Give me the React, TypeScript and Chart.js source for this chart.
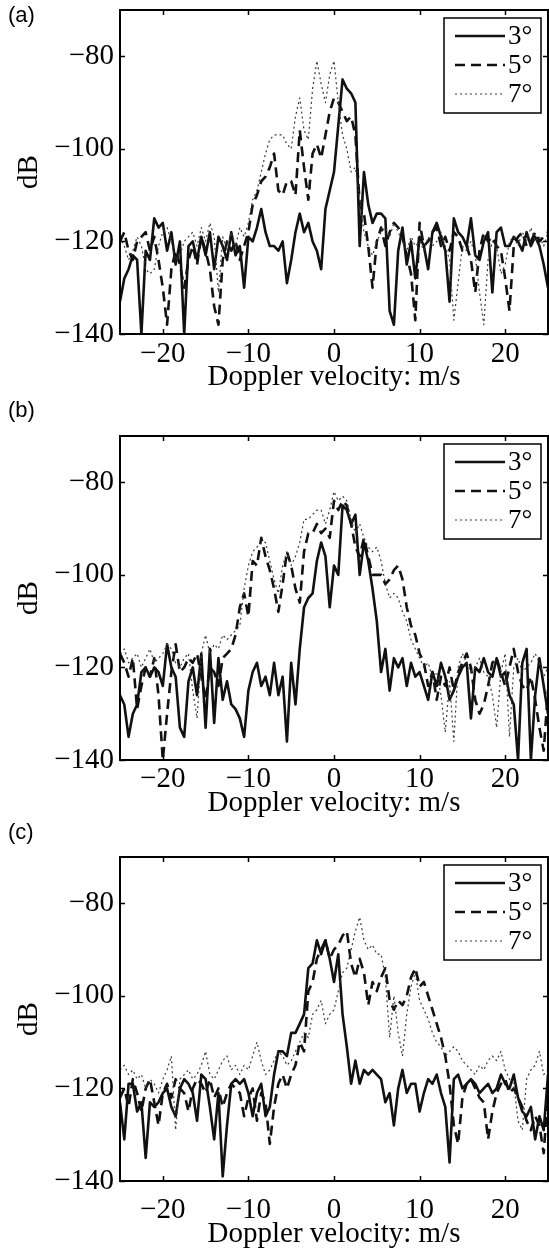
import React, { useEffect, useRef } from "react";
import { Chart, registerables } from "chart.js";

Chart.register(...registerables);

// ---------------- data ----------------
const velocity = [
  -25, -24.5, -24, -23.5, -23, -22.5, -22, -21.5, -21, -20.5,
  -20, -19.5, -19, -18.5, -18, -17.5, -17, -16.5, -16, -15.5,
  -15, -14.5, -14, -13.5, -13, -12.5, -12, -11.5, -11, -10.5,
  -10, -9.5, -9, -8.5, -8, -7.5, -7, -6.5, -6, -5.5,
  -5, -4.5, -4, -3.5, -3, -2.5, -2, -1.5, -1, -0.5,
  0, 0.5, 1, 1.5, 2, 2.5, 3, 3.5, 4, 4.5,
  5, 5.5, 6, 6.5, 7, 7.5, 8, 8.5, 9, 9.5,
  10, 10.5, 11, 11.5, 12, 12.5, 13, 13.5, 14, 14.5,
  15, 15.5, 16, 16.5, 17, 17.5, 18, 18.5, 19, 19.5,
  20, 20.5, 21, 21.5, 22, 22.5, 23, 23.5, 24, 24.5,
  25,
];

const xTicks = [-20, -10, 0, 10, 20];
const yTicks = [-140, -120, -100, -80];
const seriesLabels = ["3°", "5°", "7°"];
const panelLabels = ["(a)", "(b)", "(c)"];
const xTitle = "Doppler velocity: m/s";
const yTitle = "dB";

// panel (a)
const panelA3 = [
  -133, -128, -126, -123, -124, -140, -122, -124, -115, -117,
  -116, -122, -118, -125, -120, -140, -121, -120, -124, -119,
  -123, -118, -126, -119, -121, -124, -118, -123, -121, -130,
  -119, -120, -117, -113, -118, -121, -121, -122, -120, -129,
  -124, -118, -114, -118, -116, -120, -122, -126, -113, -109,
  -105, -95, -85, -87, -88, -90, -121, -105, -112, -116,
  -114, -114, -115, -135, -138, -122, -117, -125, -120, -128,
  -119, -121, -126, -118, -116, -119, -122, -133, -115, -118,
  -119, -121, -115, -123, -124, -120, -118, -131, -118, -117,
  -121, -121, -119, -120, -122, -118, -121, -119, -121, -125,
  -130,
];
const panelA5 = [
  -120, -118, -122, -124, -120, -119, -118, -122, -119, -124,
  -130, -138, -126, -122, -125, -130, -124, -121, -125, -119,
  -122, -126, -134, -138, -124, -120, -122, -120, -124, -121,
  -118, -112, -110, -107, -106, -104, -101, -109, -110, -107,
  -107, -110, -96, -104, -111, -101, -99, -102, -97, -92,
  -89, -90, -92, -94, -93, -97, -112, -114, -121, -130,
  -120, -117, -121, -118, -116, -117, -119, -123, -127, -137,
  -116, -121, -120, -118, -117, -121, -119, -122, -118, -119,
  -122, -121, -124, -131, -122, -118, -120, -119, -121, -122,
  -128, -135, -121, -119, -118, -121, -120, -118, -120, -119,
  -118,
];
const panelA7 = [
  -119, -121, -124, -122, -119, -121, -126, -127, -126, -121,
  -118, -117, -120, -124, -123, -120, -119, -118, -121, -117,
  -120, -116, -119, -131, -119, -122, -118, -121, -117, -119,
  -116, -111, -109, -105, -101, -98, -97, -97, -97, -99,
  -100, -93, -89, -96, -98, -87, -81, -86, -90, -84,
  -81, -90, -97, -100, -105, -104, -111, -118, -121, -123,
  -120, -118, -117, -119, -116, -118, -120, -122, -119, -121,
  -120, -122, -119, -121, -120, -118, -121, -124, -137, -129,
  -121, -122, -120, -123, -131, -138, -124, -120, -121, -127,
  -125, -120, -119, -121, -118, -120, -117, -120, -119, -121,
  -118,
];

// panel (b)
const panelB3 = [
  -126, -128, -135, -130, -128, -121, -120, -122, -120, -121,
  -124, -115, -120, -122, -133, -135, -123, -120, -126, -117,
  -133, -116, -132, -118, -127, -123, -128, -129, -131, -135,
  -125, -121, -119, -124, -122, -126, -119, -126, -122, -136,
  -119, -128, -116, -107, -105, -104, -97, -93, -96, -107,
  -98, -100, -85, -86, -89, -87, -100, -93, -97, -103,
  -110, -121, -116, -125, -118, -120, -118, -124, -119, -122,
  -121, -124, -127, -121, -124, -119, -122, -127, -125, -122,
  -120, -119, -131, -120, -121, -118, -121, -122, -118, -122,
  -121, -126, -128, -140, -119, -116, -140, -126, -118, -124,
  -130,
];
const panelB5 = [
  -117, -119, -122, -118, -129, -124, -120, -122, -118, -126,
  -140, -130, -121, -115, -121, -120, -118, -119, -117, -122,
  -127, -120, -121, -124, -118, -117, -116, -113, -107, -104,
  -109, -97, -98, -92, -96, -99, -103, -108, -102, -95,
  -98, -103, -106, -95, -91, -91, -89, -91, -90, -92,
  -84, -86, -84, -85, -89, -94, -96, -92, -96, -100,
  -100, -100, -102, -101, -99, -98, -101, -107, -111, -113,
  -117, -119, -124, -121, -127, -122, -124, -120, -125, -121,
  -119, -117, -120, -127, -130, -128, -124, -119, -118, -121,
  -124, -120, -116, -121, -124, -125, -122, -127, -133, -138,
  -125,
];
const panelB7 = [
  -117, -116, -119, -118, -117, -120, -118, -116, -119, -118,
  -117, -115, -116, -119, -120, -118, -117, -125, -131, -117,
  -113, -117, -115, -116, -113, -114, -113, -112, -111, -103,
  -98, -95, -94, -93, -93, -97, -101, -104, -98, -95,
  -98, -96, -93, -88, -88, -87, -86, -86, -89, -86,
  -82, -84, -83, -84, -88, -91, -89, -92, -94, -95,
  -94, -97, -102, -105, -104, -105, -108, -110, -114, -116,
  -118, -120, -119, -122, -121, -126, -134, -123, -136, -120,
  -117, -119, -121, -120, -118, -121, -122, -126, -133, -121,
  -117, -135, -120, -118, -121, -120, -119, -117, -119, -122,
  -120,
];

// panel (c)
const panelC3 = [
  -123, -131, -119, -119, -125, -123, -135, -123, -124, -123,
  -121, -120, -124, -126, -120, -118, -119, -121, -127, -117,
  -118, -124, -131, -121, -139, -128, -119, -118, -119, -118,
  -121, -126, -121, -119, -126, -124, -117, -112, -112, -113,
  -108, -108, -106, -104, -94, -93, -88, -91, -88, -92,
  -97, -91, -104, -111, -119, -114, -119, -116, -117, -116,
  -117, -118, -123, -121, -128, -120, -116, -121, -119, -119,
  -125, -121, -118, -119, -117, -121, -124, -136, -118, -117,
  -120, -119, -118, -119, -121, -120, -119, -121, -120, -117,
  -119, -120, -117, -122, -125, -126, -124, -131, -126, -129,
  -117,
];
const panelC5 = [
  -122, -120, -124, -118, -121, -125, -120, -118, -123, -128,
  -121, -119, -122, -118, -120, -121, -125, -120, -118, -119,
  -121, -118, -122, -120, -124, -121, -119, -120, -121, -126,
  -122, -120, -127, -121, -123, -132, -124, -119, -117, -120,
  -117, -115, -110, -112, -99, -97, -92, -90, -88, -92,
  -90, -89, -87, -86, -93, -96, -92, -95, -102, -97,
  -99, -96, -94, -101, -103, -101, -102, -100, -96, -94,
  -98, -97, -100, -103, -106, -109, -113, -119, -128, -132,
  -122, -119, -118, -120, -122, -123, -131, -125, -121, -119,
  -118, -121, -120, -122, -124, -127, -129, -126, -128, -134,
  -121,
];
const panelC7 = [
  -116, -115, -117, -116, -118, -117, -120, -118, -119, -121,
  -118, -116, -113, -129, -118, -117, -116, -118, -117, -115,
  -112, -117, -118, -116, -114, -113, -116, -115, -117, -115,
  -116, -113, -110, -114, -117, -116, -114, -112, -113, -115,
  -114, -112, -110, -108, -109, -104, -103, -101, -106, -104,
  -103, -99, -95, -94, -90, -86, -83, -88, -90, -89,
  -91, -91, -96, -109, -100, -108, -113, -104, -98, -95,
  -101, -103, -105, -108, -110, -111, -113, -112, -111, -112,
  -114, -115, -116, -117, -115, -116, -114, -113, -114, -112,
  -116, -118, -119, -127, -129, -118, -116, -115, -112, -117,
  -116,
];

const panelSeries = [
  [panelA3, panelA5, panelA7],
  [panelB3, panelB5, panelB7],
  [panelC3, panelC5, panelC7],
];

// ---------------- styling / layout ----------------
const SERIF = '"Liberation Serif", "Times New Roman", Times, serif';
const SANS = '"Liberation Sans", Arial, Helvetica, sans-serif';
const W = 549;
const CANVAS_H = 406;
const PLOT_TOP = 10;
const PLOT_H = 324;
const PLOT_LEFT = 120;
const FONT_SIZE = 29;
const canvasTops = [0, 426, 847];
const labelTops = [3, 398, 820];
// per-panel spacing of the x tick labels / x title below the frame
const tickPads = [3, 2, 12];
const titlePads = [11, 11, 1];

const lineStyles = [
  { color: "#111111", width: 2.6, dash: [] as number[] },
  { color: "#111111", width: 2.6, dash: [10, 6] },
  { color: "#3a3a3a", width: 1.2, dash: [2, 3] },
];

const fmt = (v: number | string) => {
  const n = Number(v);
  return n < 0 ? "\u2212" + Math.abs(n) : String(n);
};

const framePlugin = {
  id: "matlabFrame",
  afterDraw(chart: any) {
    const { ctx, chartArea: a, scales } = chart;
    ctx.save();
    ctx.setLineDash([]);
    ctx.strokeStyle = "#000";
    ctx.lineWidth = 1.5;
    ctx.beginPath();
    xTicks.forEach((v) => {
      const px = Math.round(scales.x.getPixelForValue(v)) + 0.5;
      ctx.moveTo(px, a.bottom);
      ctx.lineTo(px, a.bottom - 5);
      ctx.moveTo(px, a.top);
      ctx.lineTo(px, a.top + 5);
    });
    yTicks.forEach((v) => {
      const py = Math.round(scales.y.getPixelForValue(v)) + 0.5;
      ctx.moveTo(a.left, py);
      ctx.lineTo(a.left + 5, py);
      ctx.moveTo(a.right, py);
      ctx.lineTo(a.right - 5, py);
    });
    ctx.stroke();
    ctx.lineWidth = 2;
    ctx.strokeRect(a.left, a.top, a.right - a.left, a.bottom - a.top);

    // legend box (MATLAB style, inside the top-right corner)
    const bw = 97;
    const bh = 95;
    const bx = a.right - 104;
    const by = a.top + 8;
    ctx.fillStyle = "#fff";
    ctx.fillRect(bx, by, bw, bh);
    ctx.lineWidth = 1.5;
    ctx.strokeStyle = "#000";
    ctx.strokeRect(bx, by, bw, bh);
    chart.data.datasets.forEach((ds: any, i: number) => {
      const ly = by + 18 + i * 29;
      ctx.beginPath();
      ctx.setLineDash(ds.borderDash || []);
      ctx.strokeStyle = ds.borderColor;
      ctx.lineWidth = ds.borderWidth;
      ctx.moveTo(bx + 11, ly);
      ctx.lineTo(bx + 61, ly);
      ctx.stroke();
      ctx.setLineDash([]);
      ctx.fillStyle = "#000";
      ctx.font = `27px ${SERIF}`;
      ctx.textAlign = "left";
      ctx.textBaseline = "middle";
      ctx.fillText(ds.label, bx + 64, ly + 1);
    });
    ctx.restore();
  },
};

function Panel({ index }: { index: number }) {
  const ref = useRef<HTMLCanvasElement | null>(null);
  useEffect(() => {
    if (!ref.current) return;
    const series = panelSeries[index];
    const chart = new Chart(ref.current, {
      type: "line",
      data: {
        datasets: series.map((ys, i) => ({
          label: seriesLabels[i],
          data: velocity.map((x, k) => ({ x, y: ys[k] })),
          borderColor: lineStyles[i].color,
          borderWidth: lineStyles[i].width,
          borderDash: lineStyles[i].dash,
          borderJoinStyle: "round" as const,
          pointRadius: 0,
          tension: 0,
          fill: false,
          order: 3 - i,
        })),
      },
      options: {
        responsive: false,
        animation: false,
        devicePixelRatio: 1,
        layout: { padding: { top: PLOT_TOP, right: 1, left: 0, bottom: 0 } },
        plugins: { legend: { display: false }, tooltip: { enabled: false } },
        scales: {
          x: {
            type: "linear",
            min: -25,
            max: 25,
            afterBuildTicks: (s: any) => {
              s.ticks = xTicks.map((v) => ({ value: v }));
            },
            afterFit: (s: any) => {
              s.height = CANVAS_H - PLOT_TOP - PLOT_H;
              s.paddingLeft = 0;
              s.paddingRight = 0;
            },
            grid: { display: false, drawTicks: false },
            border: { display: false },
            ticks: {
              color: "#000",
              padding: tickPads[index],
              maxRotation: 0,
              autoSkip: false,
              font: { family: SERIF, size: FONT_SIZE },
              callback: (v: any) => fmt(v),
            },
            title: {
              display: true,
              text: xTitle,
              color: "#000",
              font: { family: SERIF, size: FONT_SIZE },
              padding: { top: 0, bottom: titlePads[index] },
            },
          },
          y: {
            type: "linear",
            min: -140,
            max: -70,
            afterBuildTicks: (s: any) => {
              s.ticks = yTicks.map((v) => ({ value: v }));
            },
            afterFit: (s: any) => {
              s.width = PLOT_LEFT;
              s.paddingTop = 0;
              s.paddingBottom = 0;
            },
            grid: { display: false, drawTicks: false },
            border: { display: false },
            ticks: {
              color: "#000",
              padding: 6,
              autoSkip: false,
              font: { family: SERIF, size: FONT_SIZE },
              callback: (v: any) => fmt(v),
            },
            title: {
              display: true,
              text: yTitle,
              color: "#000",
              font: { family: SERIF, size: FONT_SIZE },
              padding: { top: 12, bottom: 0 },
            },
          },
        },
      },
      plugins: [framePlugin],
    } as any);
    return () => chart.destroy();
  }, [index]);

  return (
    <canvas
      ref={ref}
      width={W}
      height={CANVAS_H}
      style={{
        position: "absolute",
        left: 0,
        top: canvasTops[index],
        width: W,
        height: CANVAS_H,
      }}
    />
  );
}

export default function App() {
  return (
    <div
      style={{
        position: "absolute",
        left: 0,
        top: 0,
        width: W,
        height: 1253,
        background: "#fff",
        overflow: "hidden",
      }}
    >
      {panelLabels.map((lbl, i) => (
        <div
          key={lbl}
          style={{
            position: "absolute",
            left: 8,
            top: labelTops[i],
            fontFamily: SANS,
            fontSize: 22,
            lineHeight: "24px",
            color: "#000",
            zIndex: 2,
          }}
        >
          {lbl}
        </div>
      ))}
      {[0, 1, 2].map((i) => (
        <Panel key={i} index={i} />
      ))}
    </div>
  );
}
